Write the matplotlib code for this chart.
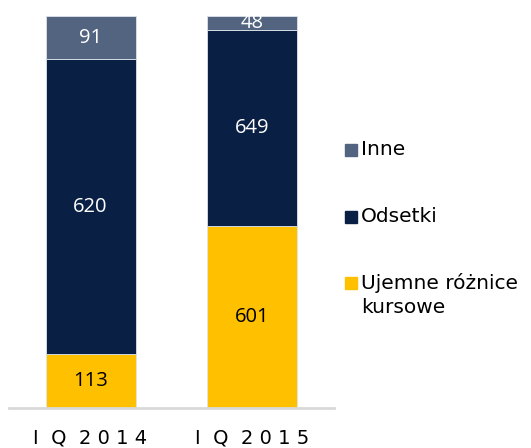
import numpy as np
import matplotlib
matplotlib.use('Agg')
import matplotlib.pyplot as plt
from matplotlib.patches import Rectangle

# dane (mln zl)
kategorie = ['I Q 2014', 'I Q 2015']
ujemne = [113, 601]
odsetki = [620, 649]
inne = [91, 48]

serie = [('Ujemne różnice\nkursowe', ujemne, '#FFC000', 'black'),
         ('Odsetki', odsetki, '#0A1F44', 'white'),
         ('Inne', inne, '#536480', 'white')]

plt.rcParams['font.family'] = ['DejaVu Sans']

fig = plt.figure(figsize=(5.31, 4.48), dpi=100)
ax = fig.add_axes([0.017, 0.0893, 0.612, 0.875])

suma = np.array(ujemne) + np.array(odsetki) + np.array(inne)
x = np.arange(len(kategorie))
dol = np.zeros(len(kategorie))
for nazwa, wart, kolor, kol_txt in serie:
    h = np.array(wart) / suma
    ax.bar(x, h, bottom=dol, width=0.557, color=kolor, edgecolor='#DDE3EA', lw=0.6)
    for xi, b, hi, v in zip(x, dol, h, wart):
        ax.text(xi, b + hi/2, str(v), ha='center', va='center', color=kol_txt,
                fontsize=14.5, family='Open Sans')
    dol += h

ax.set_xlim(-0.505, 1.508)
ax.set_ylim(0, 1)
ax.set_xticks(x)
ax.set_xticklabels(['I  Q  2 0 1 4', 'I  Q  2 0 1 5'], fontsize=14)
ax.tick_params(axis='x', length=0, pad=15)
ax.set_yticks([])
for s in ['top', 'right', 'left']:
    ax.spines[s].set_visible(False)
ax.spines['bottom'].set_color('#D9D9D9')
ax.spines['bottom'].set_linewidth(2)

# legenda
leg_y = [150, 217, 283]
for (nazwa, wart, kolor, _), yy in zip(serie[::-1], leg_y):
    yf = 1 - yy/448
    fig.add_artist(Rectangle((345/531, yf - 6/448), 12/531, 12/448,
                             transform=fig.transFigure, color=kolor))
    fig.text(361/531, yf + 10/448, nazwa, fontsize=14.5, va='top', ha='left',
             linespacing=1.35)

fig.savefig('out.png', dpi=100)
